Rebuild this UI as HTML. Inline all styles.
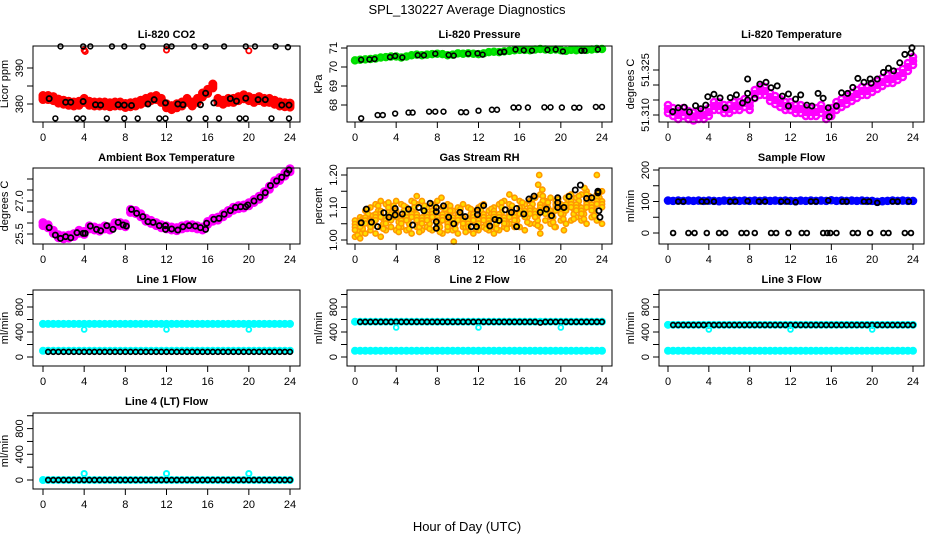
<!DOCTYPE html>
<html><head><meta charset="utf-8"><style>
html,body{margin:0;padding:0;background:#fff;}
svg{display:block;font-family:"Liberation Sans",Arial,sans-serif;}
</style></head><body>
<svg id="chart" width="936" height="540" viewBox="0 0 936 540" xmlns="http://www.w3.org/2000/svg">
<rect width="936" height="540" fill="#fff"/>
<text x="467" y="14" font-size="13" text-anchor="middle">SPL_130227  Average Diagnostics</text>
<text x="467" y="531" font-size="13" text-anchor="middle">Hour of Day (UTC)</text>
</svg>
<script>
// ---- data ----
const T = [0,0.5,1,1.5,2,2.5,3,3.5,4,4.5,5,5.5,6,6.5,7,7.5,8,8.5,9,9.5,10,10.5,11,11.5,12,12.5,13,13.5,14,14.5,15,15.5,16,16.5,17,17.5,18,18.5,19,19.5,20,20.5,21,21.5,22,22.5,23,23.5,24];
const TQ = [0.25,0.75,1.25,1.75,2.25,2.75,3.25,3.75,4.25,4.75,5.25,5.75,6.25,6.75,7.25,7.75,8.25,8.75,9.25,9.75,10.25,10.75,11.25,11.75,12.25,12.75,13.25,13.75,14.25,14.75,15.25,15.75,16.25,16.75,17.25,17.75,18.25,18.75,19.25,19.75,20.25,20.75,21.25,21.75,22.25,22.75,23.25,23.75];
const xTicks = [0,4,8,12,16,20,24];

const co2Red = [381.8,381.8,381.5,380.8,380.5,380.2,380,380.2,381,380.2,380,380,380,379.8,380,380,379.6,379.8,380,380.5,381,381.5,381.8,381,379.5,379,379.5,380,381,380,381,382.5,383.5,385,381,380.5,381,381,381.5,382,381.5,381,381.5,381,381,380.5,380,379.8,379.7];
const co2RedTopT = [4.0,4.1,12.0,20.0];
const co2RedTopV = [395,394.6,395,394.8];
const co2BlackT = [0.6,2.2,2.7,3.9,5.1,5.6,7.3,7.9,8.6,10.2,10.8,11.9,13.1,13.6,15.3,15.8,16.6,18.2,18.8,19.7,20.9,21.6,23.2,23.9];
const co2BlackV = [381.5,380.5,380.5,380.7,379.8,379.7,379.8,379.7,379.6,380,381.2,380.3,380,379.8,379.8,383,380.3,381.5,380.8,381.6,381.2,381.2,379.7,379.7];
const co2HighT = [1.7,3.9,4.6,6.7,7.9,9.7,12.0,12.5,14.7,15.8,17.6,19.7,20.6,22.6,23.8];
const co2HighV = [396,396,396,396,396,396,396,396,396,396,396,396,396,396,395.8];
const co2LowT = [1.2,3.3,3.9,6.2,7.9,9.2,11.3,11.9,14.2,15.8,17.1,19.1,19.7,22.2,23.9];
const co2LowV = [376,376,376,376,376,376,376,376,376,376,376,376,376,376,376];

const presGreen = [70.35,70.38,70.4,70.42,70.45,70.5,70.52,70.55,70.55,70.5,70.55,70.62,70.65,70.62,70.65,70.68,70.7,70.68,70.62,70.65,70.72,70.7,70.72,70.7,70.68,70.72,70.78,70.8,70.78,70.82,70.85,70.88,70.9,70.9,70.88,70.92,70.95,70.92,70.9,70.92,70.88,70.85,70.9,70.88,70.9,70.9,70.92,70.95,70.95];
const presHiT = [0.6,1.4,1.9,3.4,3.9,4.6,6.1,6.7,7.8,9.1,9.6,11,11.9,12.4,14.1,14.5,15.6,16.4,17.2,18.7,19.5,20.2,22,22.3,23.6];
const presHiV = [70.38,70.4,70.42,70.52,70.58,70.5,70.62,70.62,70.7,70.63,70.6,70.7,70.72,70.65,70.78,70.8,70.92,70.88,70.86,70.9,70.92,70.82,70.86,70.86,70.92];
const presLoT = [0.6,2.2,2.7,3.9,5.2,5.6,7.2,7.8,8.6,10.3,10.8,12,13.3,13.8,15.4,15.9,16.8,18.4,19,20.1,21.3,21.8,23.4,24];
const presLoV = [67.3,67.47,67.47,67.55,67.6,67.6,67.65,67.65,67.65,67.62,67.62,67.7,67.75,67.75,67.87,67.87,67.87,67.88,67.88,67.87,67.86,67.86,67.9,67.9];

const tempMag = [51.312,51.311,51.310,51.311,51.310,51.3095,51.310,51.310,51.311,51.313,51.313,51.312,51.312,51.313,51.313,51.314,51.313,51.317,51.318,51.318,51.316,51.315,51.314,51.313,51.313,51.312,51.312,51.311,51.311,51.311,51.312,51.310,51.311,51.313,51.314,51.315,51.316,51.317,51.318,51.318,51.319,51.320,51.321,51.322,51.322,51.323,51.324,51.326,51.328];
const tempBlackT = [0.46,1.0,1.6,2.1,2.7,3.2,3.7,3.9,4.5,5.1,5.6,6.1,6.7,7.3,7.8,7.8,7.8,8.5,9.0,9.6,10.1,10.7,11.2,11.8,11.8,12.5,13.0,13.6,14.1,14.7,15.2,15.7,15.8,16.5,17.0,17.6,18.1,18.6,19.2,19.8,19.9,20.5,21.1,21.6,22.1,22.7,23.2,23.8,23.9];
const tempBlackV = [51.3111,51.3124,51.3126,51.311,51.3131,51.3121,51.3133,51.3161,51.3169,51.3157,51.3124,51.3158,51.3167,51.314,51.3172,51.322,51.315,51.3156,51.3203,51.3209,51.3191,51.3197,51.3163,51.317,51.313,51.3153,51.3167,51.3133,51.313,51.3172,51.3156,51.3124,51.3094,51.313,51.3174,51.3172,51.3192,51.3222,51.3209,51.322,51.3206,51.322,51.3242,51.3256,51.3247,51.3274,51.3302,51.3306,51.3324];

const ambMag = [25.95,25.85,25.6,25.4,25.35,25.38,25.45,25.6,25.55,25.8,25.75,25.7,25.8,25.75,25.95,25.95,25.9,26.55,26.5,26.35,26.15,26.05,25.95,25.85,25.8,25.75,25.72,25.8,25.85,25.85,25.8,25.75,26.0,26.15,26.2,26.35,26.5,26.65,26.72,26.75,26.85,27.0,27.15,27.35,27.6,27.85,28.0,28.2,28.4];
const ambBlackT = [0.6,1.2,1.7,2.2,2.7,3.3,3.9,4.1,4.6,5.2,5.6,6.2,6.8,7.3,7.8,8.1,8.6,9.1,9.7,10.2,10.7,11.3,11.9,11.9,12.5,13.1,13.6,14.2,14.8,15.3,15.8,15.9,16.6,17.1,17.6,18.2,18.7,19.2,19.7,19.9,20.5,21.1,21.6,22.1,22.7,23.2,23.7,23.9];
const ambBlackV = [25.79,25.45,25.30,25.38,25.33,25.56,25.53,25.53,25.86,25.71,25.65,25.88,25.71,26.03,25.91,25.86,26.62,26.44,26.29,26.06,26.03,25.88,25.88,25.71,25.73,25.68,25.83,25.88,25.86,25.79,25.71,25.99,26.17,26.21,26.40,26.56,26.71,26.74,26.74,26.82,27.0,27.17,27.38,27.70,27.91,28.08,28.26,28.41];

const rhLow = [1.01,1.02,1.02,1.03,1.02,1.04,1.03,1.04,1.03,1.04,1.03,1.02,1.04,1.03,1.04,1.03,1.04,1.02,1.03,1.03,1.02,1.04,1.03,1.02,1.03,1.04,1.03,1.04,1.03,1.04,1.05,1.04,1.04,1.03,1.05,1.05,1.04,1.06,1.05,1.04,1.06,1.05,1.06,1.07,1.06,1.05,1.07,1.06,1.05];
const rhMid = [1.04,1.05,1.06,1.05,1.07,1.08,1.06,1.07,1.08,1.06,1.07,1.08,1.07,1.06,1.07,1.08,1.06,1.07,1.05,1.06,1.07,1.06,1.05,1.07,1.06,1.07,1.06,1.08,1.07,1.06,1.08,1.07,1.09,1.08,1.09,1.08,1.10,1.09,1.08,1.10,1.09,1.10,1.11,1.10,1.09,1.11,1.10,1.12,1.11];
const rhHigh = [1.06,1.07,1.09,1.10,1.11,1.12,1.11,1.10,1.12,1.11,1.10,1.12,1.11,1.12,1.10,1.11,1.12,1.10,1.11,1.09,1.10,1.11,1.10,1.09,1.10,1.11,1.09,1.10,1.11,1.12,1.11,1.13,1.12,1.11,1.12,1.13,1.14,1.12,1.13,1.12,1.11,1.13,1.14,1.13,1.14,1.15,1.13,1.14,1.15];
const rhQuarter = [1.03,1.05,1.08,1.06,1.09,1.05,1.10,1.09,1.04,1.09,1.05,1.10,1.04,1.09,1.05,1.09,1.04,1.08,1.09,1.05,1.08,1.04,1.08,1.05,1.09,1.05,1.08,1.05,1.10,1.05,1.09,1.06,1.10,1.07,1.11,1.06,1.12,1.10,1.07,1.11,1.08,1.12,1.08,1.12,1.08,1.12,1.09,1.13];
const rhOutT = [17.9,17.8,18.2,9.6,0.5,2.5,23.5,22.3,22.5,15,13.5,18,19.4,20.3,6,8.4];
const rhOutV = [1.20,1.17,1.155,0.995,1.005,1.01,1.20,1.16,1.14,1.14,1.02,1.02,1.04,1.03,1.135,1.13];
const rhBlackT = [0.6,1.1,1.6,2.2,2.8,3.3,3.9,3.9,4.6,5.2,5.6,6.2,6.7,7.3,7.9,7.9,7.9,7.9,8.6,9.1,9.6,10.2,10.7,11.3,11.8,11.9,11.9,12.5,13.1,13.6,14.0,14.6,15.2,15.7,15.7,16.4,16.9,17.4,18.0,18.6,19.1,19.7,19.7,19.7,20.3,20.8,21.4,21.9,22.5,23.0,23.6,23.6,23.7,23.8];
const rhBlackV = [1.053,1.095,1.055,1.041,1.084,1.07,1.097,1.077,1.08,1.095,1.046,1.10,1.09,1.113,1.10,1.087,1.056,1.036,1.105,1.07,1.05,1.085,1.072,1.041,1.041,1.092,1.078,1.106,1.043,1.063,1.06,1.093,1.085,1.097,1.041,1.08,1.126,1.135,1.085,1.095,1.075,1.13,1.115,1.10,1.10,1.134,1.154,1.169,1.128,1.13,1.15,1.145,1.09,1.07];

const flowBlue = [103,102,103,102,103,102,103,102,103,102,101,103,102,103,102,103,102,103,102,103,102,103,102,103,102,101,103,102,103,102,103,102,104,102,103,102,103,102,103,102,102,99,101,102,103,102,103,102,102];
const flowHiT = [1.0,1.5,3.3,3.8,4.5,6.1,6.6,7.8,8.9,9.5,11.1,11.7,12.5,14.0,14.5,15.7,17.1,17.5,19.2,19.7,20.5,22.0,22.5,23.6];
const flowHiV = [100,100,100,100,100,100,100,101,100,100,100,100,98,100,100,103,100,100,100,100,96,100,100,100];
const flowLoT = [0.5,2.0,2.6,3.8,5.0,5.6,7.2,7.7,8.5,10.1,10.6,11.8,13.1,13.6,15.2,15.6,15.9,16.5,18.1,18.6,19.8,21.1,21.6,23.2,23.8];
const flowLoV = [0,0,0,0,0,0,0,0,0,0,0,0,0,0,0,0,0,0,0,0,0,0,0,0,0];

const line1Cyan = [530,530,530,530,530,530,530,530,530,530,530,530,530,530,530,530,530,530,530,530,530,530,530,530,530,530,530,530,530,530,530,530,530,530,530,530,530,530,530,530,530,530,530,530,530,530,530,530,530];
const line1CyanLow = [100,100,100,100,100,100,100,100,100,100,100,100,100,100,100,100,100,100,100,100,100,100,100,100,100,100,100,100,100,100,100,100,100,100,100,100,100,100,100,100,100,100,100,100,100,100,100,100,100];
const line1Black = [82,82,82,82,82,82,82,82,82,82,82,82,82,82,82,82,82,82,82,82,82,82,82,82,82,82,82,82,82,82,82,82,82,82,82,82,82,82,82,82,82,82,82,82,82,82,82,82];
const line2Cyan = [565,565,565,565,565,565,565,565,565,565,565,565,565,565,565,565,565,565,565,565,565,565,565,565,565,565,565,565,565,565,565,565,565,565,565,565,565,565,565,565,565,565,565,565,565,565,565,565,565];
const line2CyanLow = [100,100,100,100,100,100,100,100,100,100,100,100,100,100,100,100,100,100,100,100,100,100,100,100,100,100,100,100,100,100,100,100,100,100,100,100,100,100,100,100,100,100,100,100,100,100,100,100,100];
const line2Black = [562,562,562,562,562,562,562,562,562,562,562,562,562,562,562,562,562,562,562,562,562,562,562,562,562,562,562,562,562,562,562,562,562,562,562,550,562,562,562,562,562,562,562,562,562,562,562,562];
const line3Cyan = [515,515,515,515,515,515,515,515,515,515,515,515,515,515,515,515,515,515,515,515,515,515,515,515,515,515,515,515,515,515,515,515,515,515,515,515,515,515,515,515,515,515,515,515,515,515,515,515,515];
const line3CyanLow = [100,100,100,100,100,100,100,100,100,100,100,100,100,100,100,100,100,100,100,100,100,100,100,100,100,100,100,100,100,100,100,100,100,100,100,100,100,100,100,100,100,100,100,100,100,100,100,100,100];
const line3Black = [512,512,512,512,512,512,512,512,512,512,512,512,512,512,512,512,512,512,512,512,512,512,512,512,512,512,512,512,512,512,512,512,512,512,512,512,512,512,512,512,512,512,512,512,512,512,512,512];
const line4Cyan = [0,0,0,0,0,0,0,0,0,0,0,0,0,0,0,0,0,0,0,0,0,0,0,0,0,0,0,0,0,0,0,0,0,0,0,0,0,0,0,0,0,0,0,0,0,0,0,0,0];
const line4Black = [0,0,0,0,0,0,0,0,0,0,0,0,0,0,0,0,0,0,0,0,0,0,0,0,0,0,0,0,0,0,0,0,0,0,0,0,0,0,0,0,0,0,0,0,0,0,0,0];
const dipT = [4,12,20];
const line1Dip = [440,440,440];
const line2Dip = [472,472,472];
const line3Dip = [440,440,440];
const line4Dip = [100,100,100];

// ---- drawing ----
const NS = 'http://www.w3.org/2000/svg';
const svg = document.getElementById('chart');
const cols = [{L:33,R:300,x0:43,x24:290},{L:347,R:612,x0:355,x24:602},{L:659,R:924,x0:668,x24:913}];
const rows = [{T:46,B:122,tt:38},{T:168,B:244,tt:161},{T:290,B:366,tt:283},{T:413,B:489,tt:405}];
function lin(v1,p1,v2,p2){return v=>p1+(v-v1)*(p2-p1)/(v2-v1);}
function mk(tag, attrs, parent){const e=document.createElementNS(NS,tag);for(const k in attrs)e.setAttribute(k,attrs[k]);(parent||svg).appendChild(e);return e;}

function panel(name, c, r, title, ytitle, yv1, yp1, yv2, yp2, yticks, ylabels){
  const col=cols[c], row=rows[r];
  const g=mk('g',{});
  
  
  const xs=lin(0,col.x0,24,col.x24), ys=lin(yv1,yp1,yv2,yp2);
  const t=mk('text',{x:(col.L+col.R)/2,y:row.tt,'font-size':11,'font-weight':'bold','text-anchor':'middle'},g);
  t.textContent=title;
  
  
  const plot=mk('g',{},g);
  
  
  const box=mk('rect',{x:col.L,y:row.T,width:col.R-col.L,height:row.B-row.T,fill:'none',stroke:'#000','stroke-width':1},g);
  
  
  const xa=mk('g',{},g);
  
  
  mk('line',{x1:xs(0),x2:xs(24),y1:row.B,y2:row.B,stroke:'#000'},xa);
  xTicks.forEach(v=>{
    mk('line',{x1:xs(v),x2:xs(v),y1:row.B,y2:row.B+6,stroke:'#000'},xa);
    const l=mk('text',{x:xs(v),y:row.B+19,'font-size':11,'text-anchor':'middle'},xa);
    l.textContent=v;
    
    
  });
  const ya=mk('g',{},g);
  
  
  mk('line',{x1:col.L,x2:col.L,y1:ys(yticks[0]),y2:ys(yticks[yticks.length-1]),stroke:'#000'},ya);
  yticks.forEach(v=>mk('line',{x1:col.L-6,x2:col.L,y1:ys(v),y2:ys(v),stroke:'#000'},ya));
  ylabels.forEach(v=>{
    const x=col.L-10, y=ys(parseFloat(v));
    const l=mk('text',{x:x,y:y,'font-size':11,'text-anchor':'middle',transform:`rotate(-90 ${x} ${y})`},ya);
    l.textContent=v;
    
    
  });
  const tx=col.L-25, ty=(row.T+row.B)/2;
  const yt=mk('text',{x:tx,y:ty,'font-size':11,'text-anchor':'middle',transform:`rotate(-90 ${tx} ${ty})`},g);
  yt.textContent=ytitle;
  
  
  return {xs,ys,g:plot};
}

function pts(p, name, ts, vs, color, r, sw, fill, offs){
  const grp=mk('g',{},p.g);
  
  
  (offs||[0]).forEach(o=>{
    ts.forEach((t,i)=>{
      const c=mk('circle',{cx:p.xs(t),cy:p.ys(vs[i])+o,r:r,fill:fill||'none',stroke:color,'stroke-width':sw},grp);
      
      
    });
  });
}

// CO2
let p=panel('co2',0,0,'Li-820 CO2','Licor ppm',380,104,390,68,[380,385,390],['380','390']);
pts(p,'co2-red',T,co2Red,'#ff0000',3,3,'#ff0000',[-2,0,2]);
pts(p,'co2-red-top',co2RedTopT,co2RedTopV,'#ff0000',2.6,1.8);
pts(p,'co2-black',co2BlackT,co2BlackV,'#000',2.6,1.8);
pts(p,'co2-black-high',co2HighT,co2HighV,'#000',2.4,1.6);
pts(p,'co2-black-low',co2LowT,co2LowV,'#000',2.4,1.6);
// Pressure
p=panel('pressure',1,0,'Li-820 Pressure','kPa',68,105,71,48,[68,69,70,71],['68','69','70','71']);
pts(p,'pressure-green',T,presGreen,'#00dd00',3,2.5,'#00ee00',[0]);
pts(p,'pressure-black-high',presHiT,presHiV,'#000',2.4,1.6);
pts(p,'pressure-black-low',presLoT,presLoV,'#000',2.4,1.6);
// Temp
p=panel('li820-temp',2,0,'Li-820 Temperature','degrees C',51.310,115,51.325,70,[51.310,51.315,51.320,51.325],['51.310','51.325']);
pts(p,'temp-magenta',T,tempMag,'#ff00ff',3,2.6,'none',[-4,0,4]);
pts(p,'temp-black',tempBlackT,tempBlackV,'#000',2.6,1.8);
// Ambient
p=panel('ambient',0,1,'Ambient Box Temperature','degrees C',25.5,234,27.0,201,[25.5,26,26.5,27,27.5,28],['25.5','27.0']);
pts(p,'ambient-magenta',T,ambMag,'#ff00ff',3,3,'#ff00ff',[-1.5,1.5]);
pts(p,'ambient-black',ambBlackT,ambBlackV,'#000',2.6,1.8);
// RH
p=panel('rh',1,1,'Gas Stream RH','percent',1.00,240,1.20,175,[1.00,1.05,1.10,1.15,1.20],['1.00','1.10','1.20']);
pts(p,'rh-low',T,rhLow,'#ff9900',2.6,1.6,'#ffdd00');
pts(p,'rh-high',T,rhHigh,'#ff9900',2.6,1.6,'#ffdd00');
pts(p,'rh-quarter',TQ,rhQuarter,'#ff9900',2.6,1.6,'#ffdd00',[-5,0,5]);
pts(p,'rh-mid',T,rhMid,'#ff9900',2.6,1.6,'#ffdd00',[-3,0,3]);
pts(p,'rh-outliers',rhOutT,rhOutV,'#ff9900',2.6,1.6,'#ffdd00');
pts(p,'rh-black',rhBlackT,rhBlackV,'#000',2.6,1.8);
// Sample flow
p=panel('sample-flow',2,1,'Sample Flow','ml/min',0,233,200,170,[0,50,100,150,200],['0','100','200']);
pts(p,'flow-blue',T,flowBlue,'#0000ff',3,2.6,'#0000ff',[0]);
pts(p,'flow-black-high',flowHiT,flowHiV,'#000',2.4,1.8);
pts(p,'flow-black-low',flowLoT,flowLoV,'#000',2.4,1.8);
// Line flows
const lt=[0,200,400,600,800,1000], ll=['0','400','800'];
const T48=T.slice(1);
p=panel('line1',0,2,'Line 1 Flow','ml/min',0,357,400,332,lt,ll);
pts(p,'line1-cyan',T,line1Cyan,'#00ffff',2.8,2.4,'#00ffff');
pts(p,'line1-cyan-low',T,line1CyanLow,'#00ffff',2.8,2.4,'#00ffff');
pts(p,'line1-black',T48,line1Black,'#000',2.4,1.7);
pts(p,'line1-dips',dipT,line1Dip,'#00ffff',2.4,1.8);
p=panel('line2',1,2,'Line 2 Flow','ml/min',0,357,400,332,lt,ll);
pts(p,'line2-cyan',T,line2Cyan,'#00ffff',2.8,2.4,'#00ffff');
pts(p,'line2-cyan-low',T,line2CyanLow,'#00ffff',2.8,2.4,'#00ffff');
pts(p,'line2-black',T48,line2Black,'#000',2.4,1.7);
pts(p,'line2-dips',dipT,line2Dip,'#00ffff',2.4,1.8);
p=panel('line3',2,2,'Line 3 Flow','ml/min',0,357,400,332,lt,ll);
pts(p,'line3-cyan',T,line3Cyan,'#00ffff',2.8,2.4,'#00ffff');
pts(p,'line3-cyan-low',T,line3CyanLow,'#00ffff',2.8,2.4,'#00ffff');
pts(p,'line3-black',T48,line3Black,'#000',2.4,1.7);
pts(p,'line3-dips',dipT,line3Dip,'#00ffff',2.4,1.8);
p=panel('line4',0,3,'Line 4 (LT) Flow','ml/min',0,480,400,454.3,lt,ll);
pts(p,'line4-cyan',T,line4Cyan,'#00ffff',2.8,2.4,'#00ffff');
pts(p,'line4-black',T48,line4Black,'#000',2.4,1.7);
pts(p,'line4-dips',dipT,line4Dip,'#00ffff',2.6,2);
</script>
</body></html>
